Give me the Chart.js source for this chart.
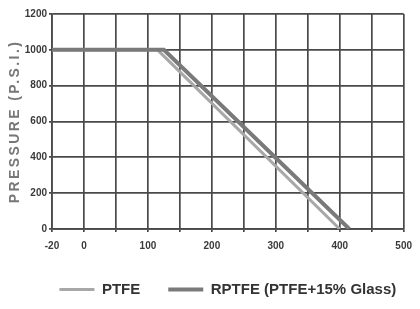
<!DOCTYPE html>
<html><head><meta charset="utf-8">
<script src="https://cdn.jsdelivr.net/npm/chart.js@4/dist/chart.umd.min.js"></script>
<style>html,body{margin:0;padding:0;background:#fff}canvas{display:block}</style>
</head><body>
<canvas id="c" width="420" height="309"></canvas>
<script>
// ---- data ----
const seriesNames = ['PTFE', 'RPTFE (PTFE+15% Glass)'];
const ptfeTemp = [-20, 115, 400];
const ptfePressure = [1000, 1000, 0];
const rptfeTemp = [-20, 125, 415];
const rptfePressure = [1000, 1000, 0];
const xTickValues = [-20, 0, 50, 100, 150, 200, 250, 300, 350, 400, 450, 500];
const xLabelValues = [-20, 0, 100, 200, 300, 400, 500];
const yTickValues = [0, 200, 400, 600, 800, 1000, 1200];
const yAxisTitle = 'PRESSURE (P.S.I.)';

// ---- broken temperature axis: -20..0 drawn as wide as one 50-degree step ----
const lowStretch = (xTickValues[2] - xTickValues[1]) / (xTickValues[1] - xTickValues[0]);
class SplitLinearScale extends Chart.LinearScale {
  static id = 'splitLinear';
  static defaults = Chart.LinearScale.defaults;
  getPixelForValue(value, index) {
    return super.getPixelForValue(value < 0 ? value * lowStretch : value, index);
  }
  getValueForPixel(pixel) {
    const v = super.getValueForPixel(pixel);
    return v < 0 ? v / lowStretch : v;
  }
}
Chart.register(SplitLinearScale);

const gridColor = '#4a4a4a';
const tickFont = { family: "'Liberation Sans', Arial, sans-serif", size: 10, weight: 'bold' };

const titleSpacing = {
  id: 'titleSpacing',
  beforeDraw(chart) {
    const s = chart.scales.y;
    if (s && !s._spaced) {
      const orig = s.drawTitle;
      s.drawTitle = function () {
        const ctx = this.ctx; ctx.save(); ctx.letterSpacing = '2.4px'; orig.call(this); ctx.restore();
      };
      s._spaced = true;
    }
  }
};
const legendUnderPlot = {
  id: 'legendUnderPlot',
  afterLayout(chart) {
    const lg = chart.legend, ca = chart.chartArea;
    if (!lg) return;
    const shift = ((ca.left + ca.right) - (lg.left + lg.right)) / 2;
    lg.left += shift; lg.right += shift;
  }
};

new Chart(document.getElementById('c'), {
  type: 'line',
  data: {
    datasets: [
      { label: seriesNames[0], data: ptfeTemp.map((t, i) => ({ x: t, y: ptfePressure[i] })),
        borderColor: '#a8a8a8', backgroundColor: '#a8a8a8', borderWidth: 3, pointRadius: 0,
        pointStyle: 'line', order: 1 },
      { label: seriesNames[1], data: rptfeTemp.map((t, i) => ({ x: t, y: rptfePressure[i] })),
        borderColor: '#7a7a7a', backgroundColor: '#7a7a7a', borderWidth: 4, pointRadius: 0,
        pointStyle: 'line', order: 0 }
    ]
  },
  options: {
    responsive: false,
    animation: false,
    devicePixelRatio: 1,
    layout: { padding: { top: 14, right: 9, bottom: 2, left: 0 } },
    plugins: {
      tooltip: { enabled: false },
      legend: {
        position: 'bottom',
        labels: {
          usePointStyle: true, pointStyleWidth: 35, padding: 28, color: '#333',
          font: { family: "'Liberation Sans', Arial, sans-serif", size: 15, weight: 'bold' },
          sort: (a, b) => a.datasetIndex - b.datasetIndex
        }
      }
    },
    scales: {
      x: {
        type: 'splitLinear', min: -50, max: 500,
        afterBuildTicks: s => { s.ticks = xTickValues.map(v => ({ value: v })); },
        afterFit: s => { s.height = 25; },
        grid: { color: gridColor, lineWidth: 1.7, tickLength: 3 },
        border: { color: gridColor, width: 1.7 },
        ticks: { autoSkip: false, maxRotation: 0, padding: 8, color: '#3a3a3a', font: tickFont,
          callback: v => xLabelValues.includes(v) ? String(v) : '' }
      },
      y: {
        min: 0, max: 1200,
        afterBuildTicks: s => { s.ticks = yTickValues.map(v => ({ value: v })); },
        afterFit: s => { s.width = 52; },
        grid: { color: gridColor, lineWidth: 1.7, tickLength: 3 },
        border: { color: gridColor, width: 1.7 },
        ticks: { padding: 2, color: '#3a3a3a', font: tickFont, callback: v => String(v) },
        title: { display: true, text: yAxisTitle, color: '#777',
          font: { family: "'Liberation Sans', Arial, sans-serif", size: 14, weight: 'bold' },
          padding: { top: 7, bottom: 0 } }
      }
    }
  },
  plugins: [titleSpacing, legendUnderPlot]
});
</script>
</body></html>
